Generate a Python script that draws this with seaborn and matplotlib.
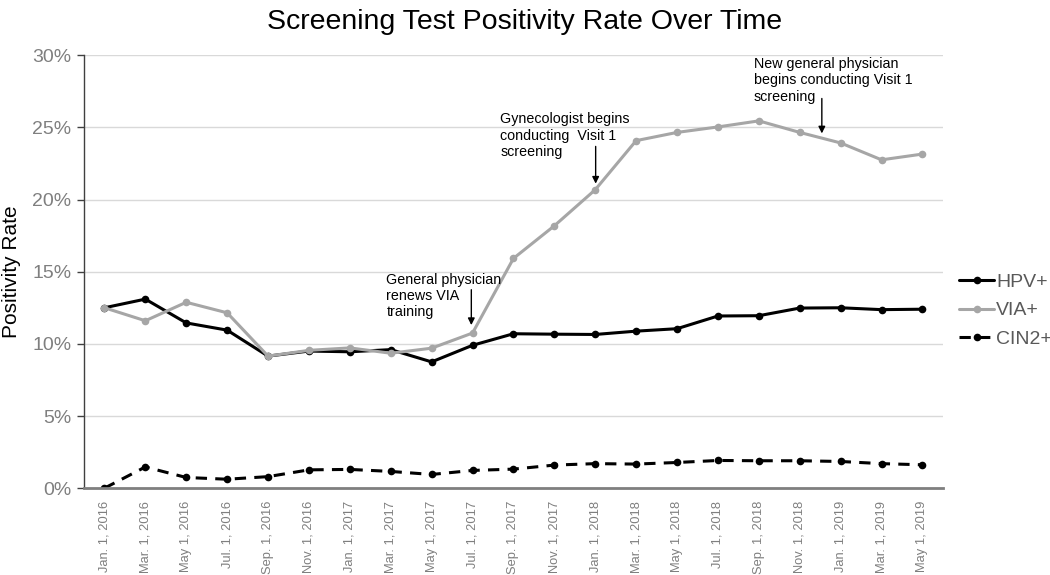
import numpy as np
import pandas as pd
import matplotlib
matplotlib.use("Agg")
import matplotlib.pyplot as plt
import seaborn as sns

dates = ["Jan. 1, 2016", "Mar. 1, 2016", "May 1, 2016", "Jul. 1, 2016", "Sep. 1, 2016",
         "Nov. 1, 2016", "Jan. 1, 2017", "Mar. 1, 2017", "May 1, 2017", "Jul. 1, 2017",
         "Sep. 1, 2017", "Nov. 1, 2017", "Jan. 1, 2018", "Mar. 1, 2018", "May 1, 2018",
         "Jul. 1, 2018", "Sep. 1, 2018", "Nov. 1, 2018", "Jan. 1, 2019", "Mar. 1, 2019",
         "May 1, 2019"]

hpv = [12.5, 13.1, 11.45, 10.95, 9.15, 9.5, 9.45, 9.6, 8.75, 9.9, 10.7,
       10.67, 10.65, 10.88, 11.05, 11.93, 11.95, 12.48, 12.5, 12.37, 12.4]
via = [12.5, 11.6, 12.88, 12.15, 9.15, 9.55, 9.72, 9.35, 9.7, 10.75, 15.92,
       18.18, 20.68, 24.08, 24.65, 25.03, 25.45, 24.65, 23.92, 22.75, 23.15]
cin2 = [0.0, 1.47, 0.74, 0.62, 0.8, 1.27, 1.3, 1.16, 0.95, 1.23, 1.32,
        1.6, 1.7, 1.67, 1.78, 1.92, 1.9, 1.9, 1.85, 1.7, 1.62]

annotations = [
    ("General physician\nrenews VIA\ntraining", "Jul. 1, 2017"),
    ("Gynecologist begins\nconducting  Visit 1\nscreening", "Jan. 1, 2018"),
    ("New general physician\nbegins conducting Visit 1\nscreening", "Nov. 1, 2018"),
]

sns.set_theme(style="white")
plt.rcParams["font.family"] = ["Liberation Sans", "DejaVu Sans"]

df = pd.DataFrame({"idx": np.arange(len(dates)), "date": dates,
                   "HPV+": hpv, "VIA+": via, "CIN2+": cin2})

fig = plt.figure(figsize=(10.5, 5.75), dpi=100)
ax = fig.add_axes([0.08, 0.151, 0.818, 0.753])

sns.lineplot(data=df, x="idx", y="HPV+", ax=ax, color="black", lw=2.2,
             marker="o", markersize=5.5, markeredgewidth=0, label="HPV+", sort=False)
sns.lineplot(data=df, x="idx", y="VIA+", ax=ax, color="#a6a6a6", lw=2.2,
             marker="o", markersize=5.5, markeredgewidth=0, label="VIA+", sort=False)
sns.lineplot(data=df, x="idx", y="CIN2+", ax=ax, color="black", lw=2.2,
             marker="o", markersize=5.5, markeredgewidth=0, label="CIN2+", sort=False)
ax.lines[-1].set_dashes((3.7, 2.7))

ax.set_xlim(-0.5, len(dates) - 0.5)
ax.set_ylim(0, 30)
ax.set_yticks(np.arange(0, 31, 5))
ax.set_yticklabels([f"{v}%" for v in range(0, 31, 5)], color="#7f7f7f", fontsize=14)
ax.set_xticks(df["idx"])
ax.set_xticklabels(dates, rotation=90, color="#7f7f7f", fontsize=9.3)
ax.tick_params(axis="y", which="major", left=True, length=5, width=1, color="#404040", pad=4)
ax.tick_params(axis="x", bottom=False, pad=3)

ax.yaxis.grid(True, color="#d9d9d9", lw=1)
ax.xaxis.grid(False)
for s in ["top", "right"]:
    ax.spines[s].set_visible(False)
ax.spines["left"].set_color("#404040")
ax.spines["left"].set_linewidth(1)
ax.spines["bottom"].set_color("#7f7f7f")
ax.spines["bottom"].set_linewidth(2)

ax.set_xlabel("")
ax.set_ylabel("Positivity Rate", fontsize=15, color="black", labelpad=8)

# text corner offset (dx, dy) and arrow (dx, top, tip) relative to the VIA point
text_offsets = [(-2.11, 4.18), (-2.32, 5.36), (-1.13, 5.21)]
arrow_offsets = [(-0.03, 3.0, 0.55), (0.01, 3.0, 0.42), (0.54, 2.35, -0.07)]
for (txt, d), (dx, dy), (ax_dx, a_top, a_tip) in zip(annotations, text_offsets, arrow_offsets):
    i = dates.index(d)
    yv = via[i]
    ax.text(i + dx, yv + dy, txt, fontsize=10.3, color="black", va="top", ha="left",
            linespacing=1.2)
    ax.annotate("", xy=(i + ax_dx, yv + a_tip), xytext=(i + ax_dx, yv + a_top),
                arrowprops=dict(arrowstyle="-|>", color="black", lw=1, mutation_scale=10,
                                shrinkA=0, shrinkB=0))

leg = ax.legend(loc="center left", bbox_to_anchor=(1.01, 0.41), frameon=False, fontsize=14,
                handlelength=1.8, handletextpad=0.1, labelspacing=0.55, borderaxespad=0)
for t in leg.get_texts():
    t.set_color("#595959")

fig.text(0.5, 0.962, "Screening Test Positivity Rate Over Time", ha="center", va="center",
         fontsize=20.5, color="black")

fig.savefig("out.png", dpi=100)
